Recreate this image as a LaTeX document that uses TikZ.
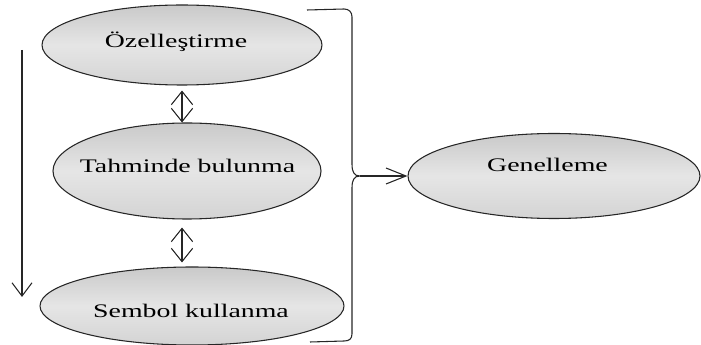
\documentclass[tikz,border=0pt]{standalone}
\usepackage{fontspec}
\setmainfont{Liberation Serif}[FakeStretch=1.45]
\usetikzlibrary{arrows.meta,shapes.geometric}
\begin{document}
\begin{tikzpicture}[x=0.75pt,y=-0.75pt,
  bubble/.style={ellipse, draw=black!85, line width=0.8pt, inner sep=0pt,
    top color=gray!42, bottom color=gray!34, middle color=gray!20},
  caption/.style={anchor=base, inner sep=0pt, text=black,
    font=\fontsize{14.4}{17}\selectfont},
  link/.style={line width=0.8pt, draw=black!85},
  twoway/.style={link, {Straight Barb[length=10pt,width=16pt]}-{Straight Barb[length=10pt,width=16pt]}},
  oneway/.style={link, -{Straight Barb[length=10pt,width=15pt]}},
  lead/.style={link, -{Straight Barb[length=15pt,width=12pt]}}
]
\useasboundingbox (0,0) rectangle (701,345);

% the four stages
\node[bubble, minimum width=210pt, minimum height=60pt]    (e1) at (182,45)  {};
\node[bubble, minimum width=201pt, minimum height=72pt]    (e2) at (187,171) {};
\node[bubble, minimum width=228pt, minimum height=58.5pt]  (e3) at (192,306) {};
\node[bubble, minimum width=219pt, minimum height=63.75pt] (e4) at (554,176) {};

\node[caption] (t1) at (176,48)   {Özelleştirme};
\node[caption] (t2) at (187.5,173) {Tahminde bulunma};
\node[caption] (t3) at (191,318)  {Sembol kullanma};
\node[caption] (t4) at (547.5,172) {Genelleme};

% links between neighbouring stages
\draw[twoway] ([shift={(0,5)}]e1.south) -- (e1.south |- e2.north);
\draw[twoway] ([shift={(-5,8)}]e2.south) -- ([shift={(-10,-4)}]e3.north);

% overall direction on the left
\coordinate (flowtop) at (22,50);
\coordinate (flowend) at (22,297);
\draw[oneway] (flowtop) -- (flowend);

% brace gathering the three stages
\coordinate (brtip) at (360,176);
\draw[link] (307,10) -- (344,9)
  .. controls (349,9) and (352,12) .. (352,17)
  -- (352,164)
  .. controls (352,172) and (354,176) .. (brtip)
  .. controls (354,176) and (352,180) .. (352,188)
  -- (352,334)
  .. controls (352,339) and (349,341) .. (344,341)
  -- (310,342);
\draw[lead] (brtip) -- (e4.west);
\end{tikzpicture}
\end{document}
